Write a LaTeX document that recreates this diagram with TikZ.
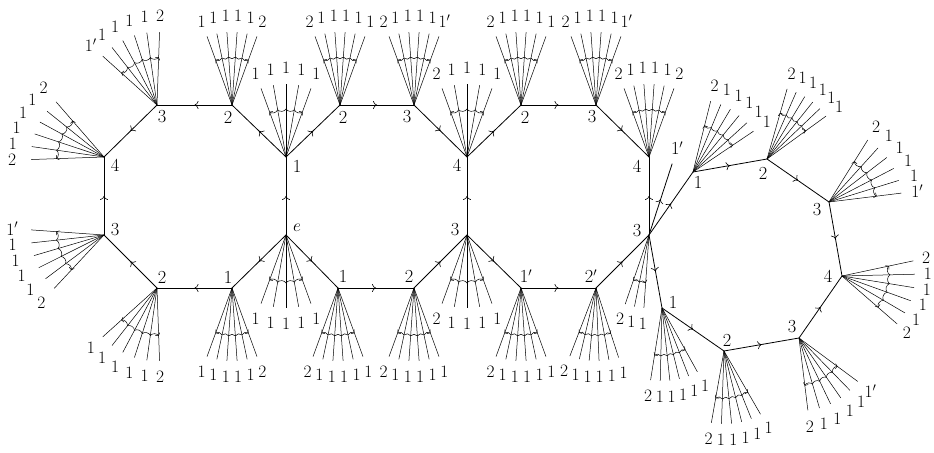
\documentclass[tikz,border=0pt]{standalone}
\usetikzlibrary{calc,arrows.meta,decorations.markings}
\tikzset{
  mainedge/.style={line width=0.8bp},
  midarr/.style={postaction={decorate,decoration={markings,mark=at position 0.5 with {\arrow{Computer Modern Rightarrow[length=4bp,width=8bp,line width=0.6bp]}}}}},
  fanray/.style={line width=0.5bp},
  scallop/.style={line width=0.5bp,{Computer Modern Rightarrow[length=2.5bp,width=5.5bp]}-{Computer Modern Rightarrow[length=2.5bp,width=5.5bp]}},
  fanlab/.style={inner sep=0pt,font=\fontsize{17.5}{20}\selectfont},
  vlab/.style={inner sep=0pt,font=\fontsize{18.5}{20}\selectfont},
}
\newcommand{\myfan}[6][89]{%
  \foreach \lab [count=\i from 0] in {#6} {
    \draw[fanray] (#2) -- ($(#2)+(#3+\i*#4:73)$);
    \node[fanlab] at ($(#2)+(#3+\i*#4:#1)$) {\lab};
  }
  \pgfmathtruncatemacro\fanlast{#5-1}
  \draw[scallop] ($(#2)+(#3:48)$) \foreach \j in {1,...,\fanlast} { to[bend left=55] ($(#2)+(#3+\j*#4:48)$) };
}
\begin{document}
\begin{tikzpicture}[x=1bp,y=1bp]
\fill[white] (0,0) rectangle (934,-453);
\useasboundingbox (0,0) rectangle (934,-453);
% vertices
\coordinate (E) at (286,-235);
\coordinate (L1t) at (286,-157);
\coordinate (L2t) at (232,-105);
\coordinate (L3t) at (157,-105);
\coordinate (L4) at (104,-157);
\coordinate (L3b) at (104,-235);
\coordinate (L2b) at (157,-288);
\coordinate (L1b) at (232,-288);
\coordinate (M2t) at (340,-105);
\coordinate (M3t) at (414,-105);
\coordinate (M4) at (467,-157);
\coordinate (M3b) at (467,-235);
\coordinate (M2b) at (414,-288);
\coordinate (M1b) at (338,-288);
\coordinate (R2t) at (521,-105);
\coordinate (R3t) at (596,-105);
\coordinate (R4) at (649,-157);
\coordinate (R3b) at (649,-235);
\coordinate (R2p) at (596,-288);
\coordinate (R1p) at (521,-288);
\coordinate (O1) at (693,-172);
\coordinate (O2) at (767,-159);
\coordinate (O3) at (829,-202);
\coordinate (O4) at (842,-276);
\coordinate (O3b) at (799,-338);
\coordinate (O2b) at (724,-351);
\coordinate (O1b) at (662,-308);
\coordinate (P) at ($(R3b)+(72:75)$);
% fans
\myfan{L1t}{70}{10}{5}{1,1,1,1,1}
\myfan{L2t}{70}{8}{6}{2,1,1,1,1,1}
\myfan{L3t}{88}{10}{6}{2,1,1,1,1,1$'$}
\myfan[92]{L4}{131}{10.2}{6}{2,1,1,1,1,2}
\myfan[92]{L3b}{176}{10.2}{6}{1$'$,1,1,1,1,2}
\myfan{L2b}{222}{10}{6}{1,1,1,1,1,2}
\myfan{L1b}{250}{8}{6}{1,1,1,1,1,2}
\myfan{E}{250}{10}{5}{1,1,1,1,1}
\myfan{M2t}{70}{8}{6}{1,1,1,1,1,2}
\myfan{M3t}{70}{8}{6}{1$'$,1,1,1,1,2}
\myfan{M4}{70}{10}{5}{1,1,1,1,2}
\myfan{M3b}{250}{10}{5}{2,1,1,1,1}
\myfan{M2b}{250}{8}{6}{2,1,1,1,1,1}
\myfan{M1b}{250}{8}{6}{2,1,1,1,1,1}
\myfan{R2t}{70}{8}{6}{1,1,1,1,1,2}
\myfan{R3t}{70}{8}{6}{1$'$,1,1,1,1,2}
\myfan{R4}{70}{8}{6}{2,1,1,1,1,2}
\myfan{R1p}{250}{8}{6}{2,1,1,1,1,1}
\myfan{R2p}{249}{7.8}{6}{2,1,1,1,1,1}
\myfan{R3b}{251}{7.5}{3}{2,1,1}
\myfan{O1}{34}{8.4}{6}{1,1,1,1,1,2}
\myfan{O2}{36}{7.6}{6}{1,1,1,1,1,2}
\myfan{O3}{7}{10.2}{6}{1$'$,1,1,1,1,2}
\myfan[86]{O4}{-41}{10.6}{6}{2,1,1,1,1,2}
\myfan{O3b}{-83}{9.3}{6}{2,1,1,1,1,1$'$}
\myfan{O2b}{260}{8}{6}{2,1,1,1,1,1}
\myfan{O1b}{261}{7.6}{6}{2,1,1,1,1,1}
% edges
\foreach \a/\b in {E/L1t,L1t/L2t,L2t/L3t,L3t/L4,L3b/L4,L2b/L3b,L1b/L2b,E/L1b,
  L1t/M2t,M2t/M3t,M3t/M4,E/M1b,M1b/M2b,M2b/M3b,M3b/M4,
  M4/R2t,R2t/R3t,R3t/R4,M3b/R1p,R1p/R2p,R2p/R3b,R3b/R4,
  R3b/P,R3b/O1,O1/O2,O2/O3,O3/O4,R3b/O1b,O1b/O2b,O2b/O3b,O3b/O4}
  \draw[mainedge,midarr] (\a) -- (\b);
% vertex labels
\node[vlab] (lE) at (297,-228) {$e$};
\node[vlab] (lL1t) at (297,-166) {1};
\node[vlab] (lL2t) at (228,-117) {2};
\node[vlab] (lL3t) at (162,-117) {3};
\node[vlab] (lL4) at (115,-165) {4};
\node[vlab] (lL3b) at (115,-230) {3};
\node[vlab] (lL2b) at (162,-277) {2};
\node[vlab] (lL1b) at (228,-277) {1};
\node[vlab] (lM2t) at (343,-117) {2};
\node[vlab] (lM3t) at (407,-117) {3};
\node[vlab] (lM4) at (457,-165) {4};
\node[vlab] (lM3b) at (455,-230) {3};
\node[vlab] (lM2b) at (409,-276) {2};
\node[vlab] (lM1b) at (343,-276) {1};
\node[vlab] (lR1p) at (526,-276) {1$'$};
\node[vlab] (lR2p) at (591,-276) {2$'$};
\node[vlab] (lR2t) at (525,-117) {2};
\node[vlab] (lR3t) at (592,-117) {3};
\node[vlab] (lR4) at (637,-166) {4};
\node[vlab] (lR3b) at (637,-231) {3};
\node[vlab] (lP) at ($(R3b)+(72:91)$) {1$'$};
\node[vlab] (lO1) at (698,-182) {1};
\node[vlab] (lO2) at (763,-173) {2};
\node[vlab] (lO3) at (817,-210) {3};
\node[vlab] (lO4) at (828,-276) {4};
\node[vlab] (lO3b) at (792,-327) {3};
\node[vlab] (lO2b) at (727,-340) {2};
\node[vlab] (lO1b) at (673,-302) {1};
\end{tikzpicture}
\end{document}
